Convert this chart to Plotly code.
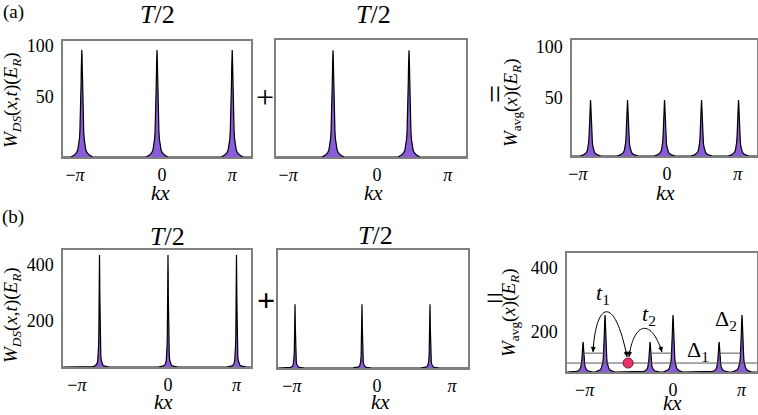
import numpy as np
import plotly.graph_objects as go

W, H = 758, 415
PI = np.pi
FONT = "Liberation Serif"
PURPLE = "#8a5cd8"
FRAME = "#7f7f7f"

# peak positions (units of pi) and peak tops, one pair per panel
a1_peaks = [-1.0, 0.0, 1.0]
a1_tops = [96, 96, 96]
a2_peaks = [-0.5, 0.5]
a2_tops = [95, 95]
a3_peaks = [-1.0, -0.5, 0.0, 0.5, 1.0]
a3_tops = [48, 48, 48, 48, 48]
b1_peaks = [-1.0, 0.0, 1.0]
b1_tops = [436, 436, 436]
b2_peaks = [-1.214, -0.222, 0.785]
b2_tops = [262, 262, 262]
b3_peaks = [-1.314, -0.993, -0.336, 0.0, 0.672, 1.007]
b3_tops = [169, 253, 169, 253, 169, 253]

# one side of a peak: offset from centre (rad) and fraction of the peak height
wide_dx = [0, 0.01, 0.02, 0.03, 0.045, 0.06, 0.08, 0.1, 0.13, 0.17, 0.22, 0.3, 0.45]
wide_h = [1, 0.95, 0.84, 0.69, 0.5, 0.36, 0.24, 0.17, 0.107, 0.065, 0.04, 0.02, 0.0]
narrow_dx = [0, 0.005, 0.01, 0.015, 0.02, 0.03, 0.04, 0.06, 0.08, 0.11, 0.15, 0.2, 0.3, 0.45]
narrow_h = [1, 0.94, 0.8, 0.64, 0.5, 0.31, 0.2, 0.1, 0.06, 0.032, 0.018, 0.01, 0.004, 0.0]

# energy levels in (b) right
level_low = 103
level_high = 134
high_wells = [[-1.314, -0.993], [-0.336, 0.0], [0.672, 1.007]]
dot_x = [-0.656]
dot_y = [103]

tick_text = ["\u2212<i>\u03c0</i>", "0", "<i>\u03c0</i>"]

# frame in pixels (left, top, right, bottom), x range in units of pi, y range
panels = [
    dict(box=(63, 41, 251, 157), xr=(-1.25, 1.25), yr=(-10, 105), xt=[-1.09, 0.067, 1.0],
         yt=[50, 100], peaks=a1_peaks, tops=a1_tops, prof=(wide_dx, wide_h)),
    dict(box=(276, 40, 466, 157), xr=(-1.25, 1.25), yr=(-10, 105), xt=[-1.09, 0.079, 1.01],
         yt=[], peaks=a2_peaks, tops=a2_tops, prof=(wide_dx, wide_h)),
    dict(box=(572, 40, 757, 156), xr=(-1.25, 1.25), yr=(-7, 107), xt=[-1.17, 0.034, 0.99],
         yt=[50, 100], peaks=a3_peaks, tops=a3_tops, prof=(wide_dx, wide_h)),
    dict(box=(63, 250, 251, 367), xr=(-1.533, 1.212), yr=(36, 454), xt=[-1.33, 0.0, 1.0],
         yt=[200, 400], peaks=b1_peaks, tops=b1_tops, prof=(narrow_dx, narrow_h)),
    dict(box=(278, 250, 468, 368), xr=(-1.466, 1.348), yr=(36, 454), xt=[-1.26, 0.0, 1.11],
         yt=[], peaks=b2_peaks, tops=b2_tops, prof=(narrow_dx, narrow_h)),
    dict(box=(567, 253, 757, 372), xr=(-1.548, 1.226), yr=(75, 447), xt=[-1.29, 0.0, 1.0],
         yt=[200, 400], peaks=b3_peaks, tops=b3_tops, prof=(wide_dx, wide_h)),
]


def peak_curve(peaks, tops, base, prof, xr):
    dx, h = prof
    xs, ys = [xr[0] * PI], [base]
    for p, top in zip(peaks, tops):
        c = p * PI
        for d, f in zip(dx[::-1], h[::-1]):
            xs.append(c - d)
            ys.append(base + f * (top - base))
        for d, f in zip(dx[1:], h[1:]):
            xs.append(c + d)
            ys.append(base + f * (top - base))
    xs.append(xr[1] * PI)
    ys.append(base)
    return xs, ys


fig = go.Figure()
layout = {}
for i, p in enumerate(panels, start=1):
    sfx = "" if i == 1 else str(i)
    l, t, r, b = p["box"]
    base = p["yr"][0]
    xs, ys = peak_curve(p["peaks"], p["tops"], base, p["prof"], p["xr"])
    fig.add_trace(go.Scatter(
        x=[p["xr"][0] * PI, p["xr"][1] * PI], y=[base, base], mode="lines",
        line=dict(width=0), showlegend=False, hoverinfo="skip",
        xaxis="x" + sfx, yaxis="y" + sfx
    ))
    fig.add_trace(go.Scatter(
        x=xs, y=ys, mode="lines", fill="tonexty", fillcolor=PURPLE,
        line=dict(color="black", width=1.2), showlegend=False,
        xaxis="x" + sfx, yaxis="y" + sfx
    ))
    layout["xaxis" + sfx] = dict(
        domain=[l / W, r / W], range=[p["xr"][0] * PI, p["xr"][1] * PI],
        anchor="y" + sfx, showline=True, mirror=True, linecolor=FRAME, linewidth=1.5,
        showgrid=False, zeroline=False, ticks="", automargin=False,
        tickvals=[v * PI for v in p["xt"]], ticktext=tick_text,
        tickfont=dict(family=FONT, size=18, color="black"), ticklabelstandoff=1
    )
    layout["yaxis" + sfx] = dict(
        domain=[1 - b / H, 1 - t / H], range=list(p["yr"]),
        anchor="x" + sfx, showline=True, mirror=True, linecolor=FRAME, linewidth=1.5,
        showgrid=False, zeroline=False, ticks="", automargin=False,
        tickvals=p["yt"], showticklabels=bool(p["yt"]),
        tickfont=dict(family=FONT, size=18, color="black"), ticklabelstandoff=4
    )

# energy levels and the particle in (b) right
fig.add_trace(go.Scatter(
    x=[panels[5]["xr"][0] * PI, panels[5]["xr"][1] * PI], y=[level_low, level_low],
    mode="lines", line=dict(color="#555555", width=1), showlegend=False,
    xaxis="x6", yaxis="y6"
))
hx, hy = [], []
for w in high_wells:
    hx += [w[0] * PI, w[1] * PI, None]
    hy += [level_high, level_high, None]
fig.add_trace(go.Scatter(
    x=hx, y=hy, mode="lines", line=dict(color="#555555", width=1),
    showlegend=False, xaxis="x6", yaxis="y6"
))
fig.add_trace(go.Scatter(
    x=[v * PI for v in dot_x], y=dot_y, mode="markers",
    marker=dict(size=10, color="#e8336b", line=dict(color="#7a1030", width=1)),
    showlegend=False, xaxis="x6", yaxis="y6"
))


def px(x):
    return x / W


def py(y):
    return 1 - y / H


ann = []


def text(s, x, y, size, angle=0):
    ann.append(dict(
        text=s, x=px(x), y=py(y), xref="paper", yref="paper", showarrow=False,
        xanchor="center", yanchor="middle", textangle=angle,
        font=dict(family=FONT, size=size, color="black")
    ))


text("(a)", 13, 12, 19)
text("(b)", 13, 217, 19)
text("<i>T</i>/2", 157, 14, 26)
text("<i>T</i>/2", 373, 14, 26)
text("<i>T</i>/2", 167, 236, 26)
text("<i>T</i>/2", 375, 235, 26)
text("+", 265, 97, 32)
text("=", 495, 94, 32, angle=90)
text("<b>+</b>", 266, 300, 32)
text("=", 495, 298, 32)

w_ds = "<i>W</i><sub><i>DS</i></sub>(<i>x</i>,<i>t</i>)(<i>E</i><sub><i>R</i></sub>)"
w_avg = "<i>W</i><sub>avg</sub>(<i>x</i>)(<i>E</i><sub><i>R</i></sub>)"
text(w_ds, 12, 100, 19, angle=-90)
text(w_avg, 512, 103, 19, angle=-90)
text(w_ds, 12, 315, 19, angle=-90)
text(w_avg, 510, 313, 19, angle=-90)

for x, y in [(160, 193), (373, 193), (665, 193), (163, 402), (380, 402), (672, 403)]:
    text("<i>kx</i>", x, y, 21)

text("<i>t</i><sub>1</sub>", 603, 294, 22)
text("<i>t</i><sub>2</sub>", 649, 315, 22)
text("\u0394<sub>1</sub>", 698, 351, 22)
text("\u0394<sub>2</sub>", 726, 320, 22)

# hopping arcs with arrowheads at both ends
arcs = [
    [(593, 352), (596, 300), (615, 295), (627, 357)],
    [(629, 357), (633, 325), (650, 315), (662, 352)],
]
shapes = []
for a in arcs:
    path = "M {},{} C {},{} {},{} {},{}".format(
        px(a[0][0]), py(a[0][1]), px(a[1][0]), py(a[1][1]),
        px(a[2][0]), py(a[2][1]), px(a[3][0]), py(a[3][1]))
    shapes.append(dict(type="path", path=path, xref="paper", yref="paper",
                       line=dict(color="black", width=1)))
    for head, ctrl in [(a[0], a[1]), (a[3], a[2])]:
        dxp, dyp = ctrl[0] - head[0], ctrl[1] - head[1]
        n = (dxp ** 2 + dyp ** 2) ** 0.5
        ann.append(dict(
            text="", x=px(head[0]), y=py(head[1]), xref="paper", yref="paper",
            showarrow=True, ax=8 * dxp / n, ay=8 * dyp / n,
            arrowhead=2, arrowsize=1, arrowwidth=1, arrowcolor="black", standoff=0
        ))

fig.update_layout(
    width=W, height=H, margin=dict(l=0, r=0, t=0, b=0),
    paper_bgcolor="white", plot_bgcolor="white",
    annotations=ann, shapes=shapes, **layout
)

# the page's default body margin would push the figure 8px down and right
fig.write_html("out.html", config={"displayModeBar": False},
               post_script="document.body.style.margin = '0px';")
